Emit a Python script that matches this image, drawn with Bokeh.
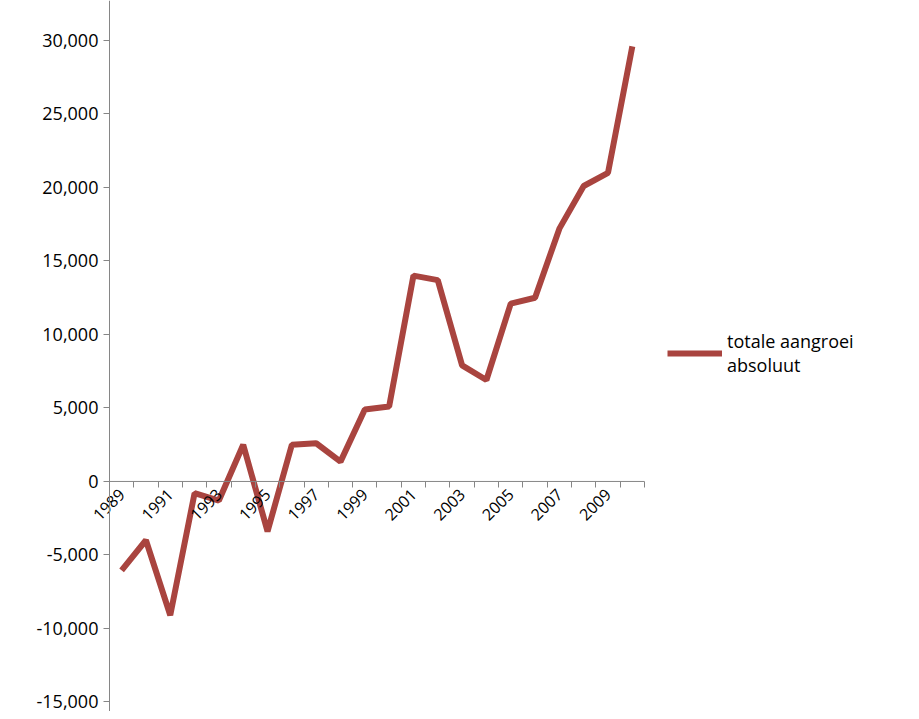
from bokeh.plotting import figure
from bokeh.models import LinearAxis, FixedTicker, NumeralTickFormatter, Range1d, Legend, LegendItem
from bokeh.embed import file_html
from bokeh.resources import INLINE
import math

years = list(range(1989, 2011))
values = [-6050, -4000, -9100, -800, -1300, 2500, -3400, 2500, 2600, 1350, 4900,
          5100, 14000, 13700, 7900, 6900, 12100, 12500, 17200, 20100, 21000, 29600]
y_ticks = [-15000, -10000, -5000, 0, 5000, 10000, 15000, 20000, 25000, 30000]
label_years = [1989, 1991, 1993, 1995, 1997, 1999, 2001, 2003, 2005, 2007, 2009]
series_name = "totale aangroei\nabsoluut"

FONT = "Open Sans"

p = figure(width=903, height=711, output_backend="svg", toolbar_location=None,
           x_range=Range1d(1984.02, 2021.15), y_range=Range1d(-15650, 32720),
           min_border=0, x_axis_location=None, y_axis_location=None)
p.outline_line_color = None
p.xgrid.visible = False
p.ygrid.visible = False

line = p.line(years, values, line_color="#A9443F", line_width=6)

# y axis sits at the left edge of the first category
yaxis = LinearAxis(fixed_location=1988.5, ticker=FixedTicker(ticks=y_ticks),
                   formatter=NumeralTickFormatter(format="0,0"))
yaxis.major_label_text_font = FONT
yaxis.major_label_text_font_size = "13.5pt"
yaxis.major_label_text_color = "#000000"
yaxis.axis_line_color = "#868686"
yaxis.major_tick_line_color = "#868686"
yaxis.major_tick_out = 6
yaxis.major_tick_in = 0
yaxis.minor_tick_line_color = None
p.add_layout(yaxis, "left")

# x axis at y = 0: boundary tick marks
bounds = [y - 0.5 for y in years] + [2010.5]
xticks_axis = LinearAxis(fixed_location=0, ticker=FixedTicker(ticks=bounds),
                         major_label_overrides={b: "" for b in bounds})
xticks_axis.axis_line_color = None
xticks_axis.major_tick_line_color = "#868686"
xticks_axis.major_tick_out = 6
xticks_axis.major_tick_in = 0
xticks_axis.minor_tick_line_color = None
p.add_layout(xticks_axis, "below")
p.segment(x0=[1988.5], y0=[0], x1=[2010.5], y1=[0], line_color="#868686", line_width=1)

xlab_axis = LinearAxis(fixed_location=0, ticker=FixedTicker(ticks=label_years))
xlab_axis.axis_line_color = None
xlab_axis.major_tick_line_color = None
xlab_axis.minor_tick_line_color = None
xlab_axis.major_label_orientation = math.pi / 4
xlab_axis.major_label_text_font = FONT
xlab_axis.major_label_text_font_size = "12pt"
xlab_axis.major_label_text_color = "#000000"
xlab_axis.major_label_standoff = 4
p.add_layout(xlab_axis, "below")

legend = Legend(items=[LegendItem(label=series_name, renderers=[line])],
                location=(667, 334), border_line_color=None, background_fill_alpha=0,
                label_text_font=FONT, label_text_font_size="13.5pt", label_text_color="#000000",
                glyph_width=55, label_standoff=5, padding=0, margin=0)
p.add_layout(legend)

open("out.html", "w").write(file_html(p, INLINE))
